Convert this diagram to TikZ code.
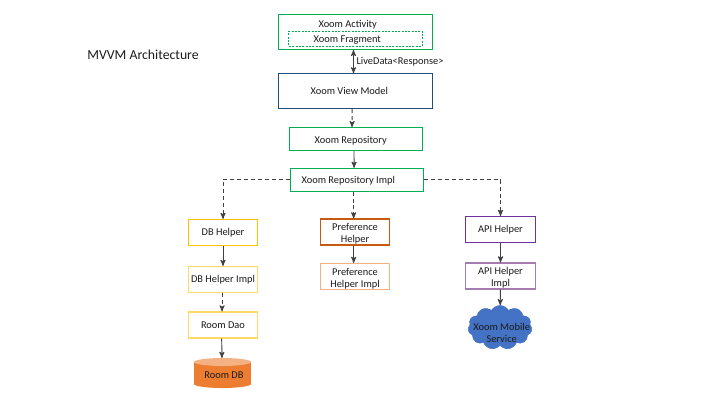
\documentclass[tikz,border=0pt]{standalone}
\usepackage{fontspec}
\setmainfont{Carlito}
\usetikzlibrary{arrows,positioning,shapes.symbols}

\definecolor{xgreen}{HTML}{00B050}
\definecolor{xnavy}{HTML}{1F4E79}
\definecolor{xyellow}{HTML}{FFC000}
\definecolor{xpaleyellow}{HTML}{FFD966}
\definecolor{xbrown}{HTML}{C55A11}
\definecolor{xpalebrown}{HTML}{F4B183}
\definecolor{xpurple}{HTML}{7030A0}
\definecolor{xpalepurple}{HTML}{A67CB0}
\definecolor{xorange}{HTML}{ED7D31}
\definecolor{xblue}{HTML}{4472C4}
\definecolor{xline}{HTML}{404040}
\definecolor{xtext}{HTML}{1A1A1A}

\newcommand{\toppad}{\rule{0pt}{8.5pt}}

\tikzset{
  every node/.style={font=\fontsize{7.8}{9}\selectfont,text=xtext,align=center},
  wide/.style={draw,line width=.8pt,minimum width=116pt,minimum height=26pt,inner sep=0pt},
  mid/.style={draw=xgreen,line width=.8pt,minimum width=100pt,minimum height=17pt,inner sep=0pt},
  small/.style={draw,line width=.8pt,minimum width=52pt,minimum height=19.5pt,inner sep=0pt},
  plain/.style={inner sep=0pt,yshift=-.7pt},
  drumend/.style={x radius=21.4pt,y radius=3pt},
  solidline/.style={->,>=stealth',xline,line width=.7pt},
  dashline/.style={solidline,dash pattern=on 3pt off 2.2pt}
}

\begin{document}
\begin{tikzpicture}[x=.75pt,y=-.75pt]

  \useasboundingbox (0,0) rectangle (720,405);

  \node[inner sep=0pt,font=\fontsize{10.3}{13}\selectfont] (title) at (143,55) {MVVM Architecture};

  \node[wide,draw=xgreen] (act) at (355.5,32) {};
  \node[draw=xgreen,dash pattern=on 1.5pt off 1pt,line width=.6pt,minimum width=100pt,minimum height=11pt,inner sep=0pt] (frag) at (355.5,38.7) {};
  \node[plain] (actlbl)  at (347.7,23.7) {Xoom Activity};
  \node[plain] (fraglbl) at (347.3,38.7) {Xoom Fragment};

  \node[wide,draw=xnavy] (vm) [below=17.6pt of act] {};
  \node[plain] (vmlbl) at (349.3,89.5) {Xoom View Model};
  \node[plain] (live)  at (400,61) {LiveData<Response>};

  \node[mid] (repo) at (356,139) {};
  \node[plain] (repolbl) at (350.7,139.5) {Xoom Repository};
  \node[mid] (impl) at (357,179.7) {};
  \node[plain] (impllbl) at (348.3,179.5) {Xoom Repository Impl};

  \node[small,draw=xyellow] (dbh) at (223,232.5) {DB Helper};
  \node[small,draw=xpaleyellow] (dbi) at (223,279.5) {DB Helper Impl};
  \node[small,draw=xpaleyellow] (dao) at (223,325) {Room Dao};

  \fill[xorange] (194,362) rectangle (251,384);
  \fill[xorange] (222.5,384) ellipse [drumend];
  \fill[xpalebrown] (222.5,362) ellipse [drumend];
  \coordinate (db) at (222,358);
  \node[plain] (dblbl) at (224,374.7) {Room DB};

  \node[small,draw=xbrown] (prh) at (355,232) {\toppad Preference\\Helper};
  \node[small,draw=xpalebrown] (pri) at (355,276.5) {\toppad Preference\\Helper Impl};

  \node[small,draw=xpurple] (aph) at (500.5,229.5) {API Helper};
  \node[small,draw=xpalepurple] (api) at (500.5,276) {\toppad API Helper\\Impl};
  \node[cloud,cloud puffs=11,cloud puff arc=120,aspect=1.4,fill=xblue,draw=xblue,
        minimum width=48pt,minimum height=33pt,inner sep=0pt] (svc) at (500,327.5) {};
  \node[plain] (svclbl) at (501.7,331.5) {Xoom Mobile\\Service};

  \draw[solidline,<->] ([xshift=-1.5pt]act.south) -- ([xshift=-1.5pt]vm.north);
  \draw[dashline] ([xshift=-2.5pt]vm.south) -- ([xshift=-3pt]repo.north);
  \draw[solidline] ([xshift=-1.5pt]repo.south) -- ([xshift=-2.2pt]impl.north);

  \draw[dashline] (impl.west) -| (dbh.north);
  \draw[dashline] ([xshift=-2.5pt]impl.south) -- ([xshift=-1pt]prh.north);
  \draw[dashline] (impl.east) -| (aph.north);

  \draw[solidline] (dbh) -- (dbi);
  \draw[dashline] ([xshift=-.7pt]dbi.south) -- ([xshift=-.7pt]dao.north);
  \draw[solidline] ([xshift=-1pt]dao.south) -- (db);

  \draw[solidline] ([xshift=-1pt]prh.south) -- ([xshift=-1pt]pri.north);
  \draw[solidline] (aph) -- (api);
  \draw[solidline] (api) -- (svc);
\end{tikzpicture}
\end{document}
